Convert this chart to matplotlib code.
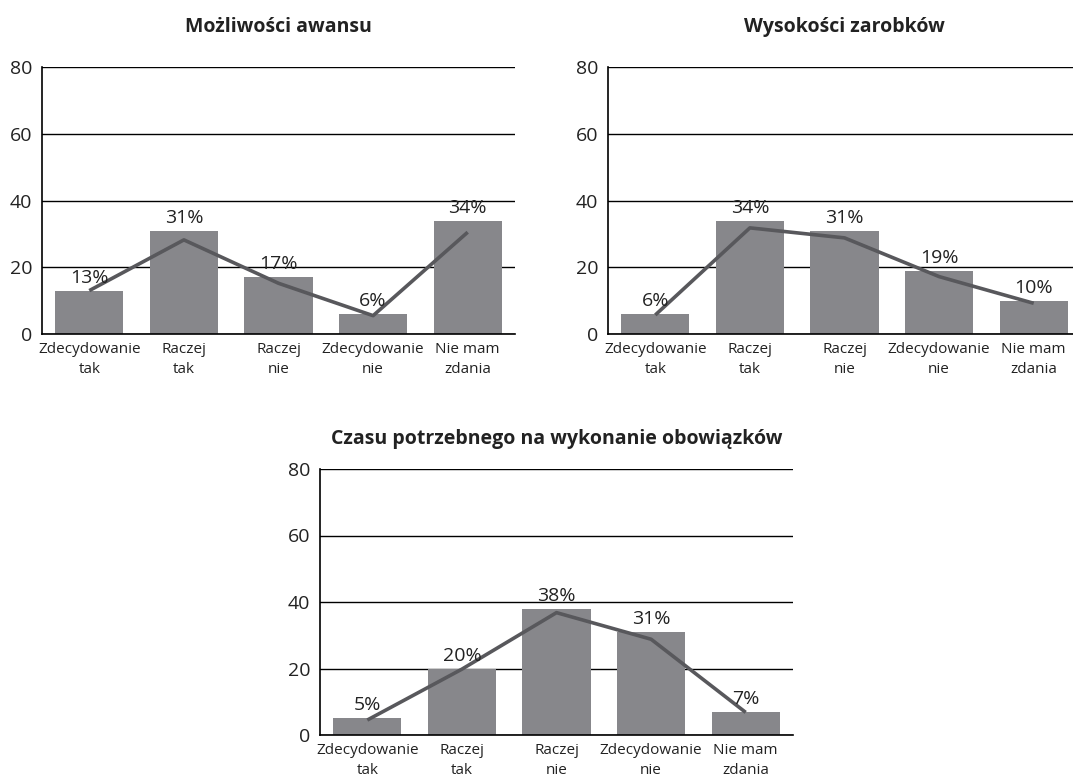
import matplotlib
matplotlib.use("Agg")
import matplotlib.pyplot as plt

categories = ["Zdecydowanie\ntak", "Raczej\ntak", "Raczej\nnie", "Zdecydowanie\nnie", "Nie mam\nzdania"]

titles = ["Możliwości awansu", "Wysokości zarobków", "Czasu potrzebnego na wykonanie obowiązków"]

awans_bars = [13, 31, 17, 6, 34]
awans_line = [13, 28.2, 15.2, 5.5, 30.5]

zarobki_bars = [6, 34, 31, 19, 10]
zarobki_line = [5.7, 31.8, 28.8, 17.2, 9.2]

czas_bars = [5, 20, 38, 31, 7]
czas_line = [4.5, 19.8, 36.8, 28.8, 6.8]

y_ticks = [0, 20, 40, 60, 80]

BAR_COLOR = "#87878b"
LINE_COLOR = "#58585c"
TEXT_COLOR = "#222222"
FONT = ["Open Sans", "DejaVu Sans"]
plt.rcParams["font.family"] = FONT

W, H = 1073, 778
fig = plt.figure(figsize=(W / 100, H / 100), dpi=100)


def px_axes(left, top, right, bottom):
    return fig.add_axes([left / W, 1 - bottom / H, (right - left) / W, (bottom - top) / H])


def draw(ax, title, bars, line, title_pad):
    x = list(range(len(categories)))
    ax.bar(x, bars, width=0.72, color=BAR_COLOR, zorder=2)
    ax.plot(x, line, color=LINE_COLOR, linewidth=2.6, zorder=3, solid_capstyle="butt")
    for xi, v in zip(x, bars):
        ax.text(xi, v + 1.2, f"{v}%", ha="center", va="bottom", fontsize=14,
                color=TEXT_COLOR, zorder=4)
    ax.set_xlim(-0.5, len(categories) - 0.5)
    ax.set_ylim(0, 80)
    ax.set_yticks(y_ticks)
    ax.set_yticklabels([str(t) for t in y_ticks], fontsize=14, color=TEXT_COLOR)
    ax.set_xticks(x)
    ax.set_xticklabels(categories, fontsize=11, color=TEXT_COLOR, linespacing=1.4)
    ax.tick_params(axis="both", length=0)
    ax.tick_params(axis="y", pad=7)
    ax.tick_params(axis="x", pad=6)
    ax.yaxis.grid(True, color="black", linewidth=1.0, zorder=1)
    ax.set_axisbelow(True)
    for s in ("top", "right"):
        ax.spines[s].set_visible(False)
    for s in ("left", "bottom"):
        ax.spines[s].set_color("black")
        ax.spines[s].set_linewidth(1.2)
    ax.spines["bottom"].set_zorder(5)
    ax.set_title(title, fontsize=14, fontweight="bold", color=TEXT_COLOR, pad=title_pad)


ax1 = px_axes(42, 67, 515, 334)
ax2 = px_axes(608, 67, 1081, 334)
ax3 = px_axes(320, 469, 793, 735)

draw(ax1, titles[0], awans_bars, awans_line, 25)
draw(ax2, titles[1], zarobki_bars, zarobki_line, 25)
draw(ax3, titles[2], czas_bars, czas_line, 18)

fig.savefig("out.png", dpi=100, facecolor="white")
